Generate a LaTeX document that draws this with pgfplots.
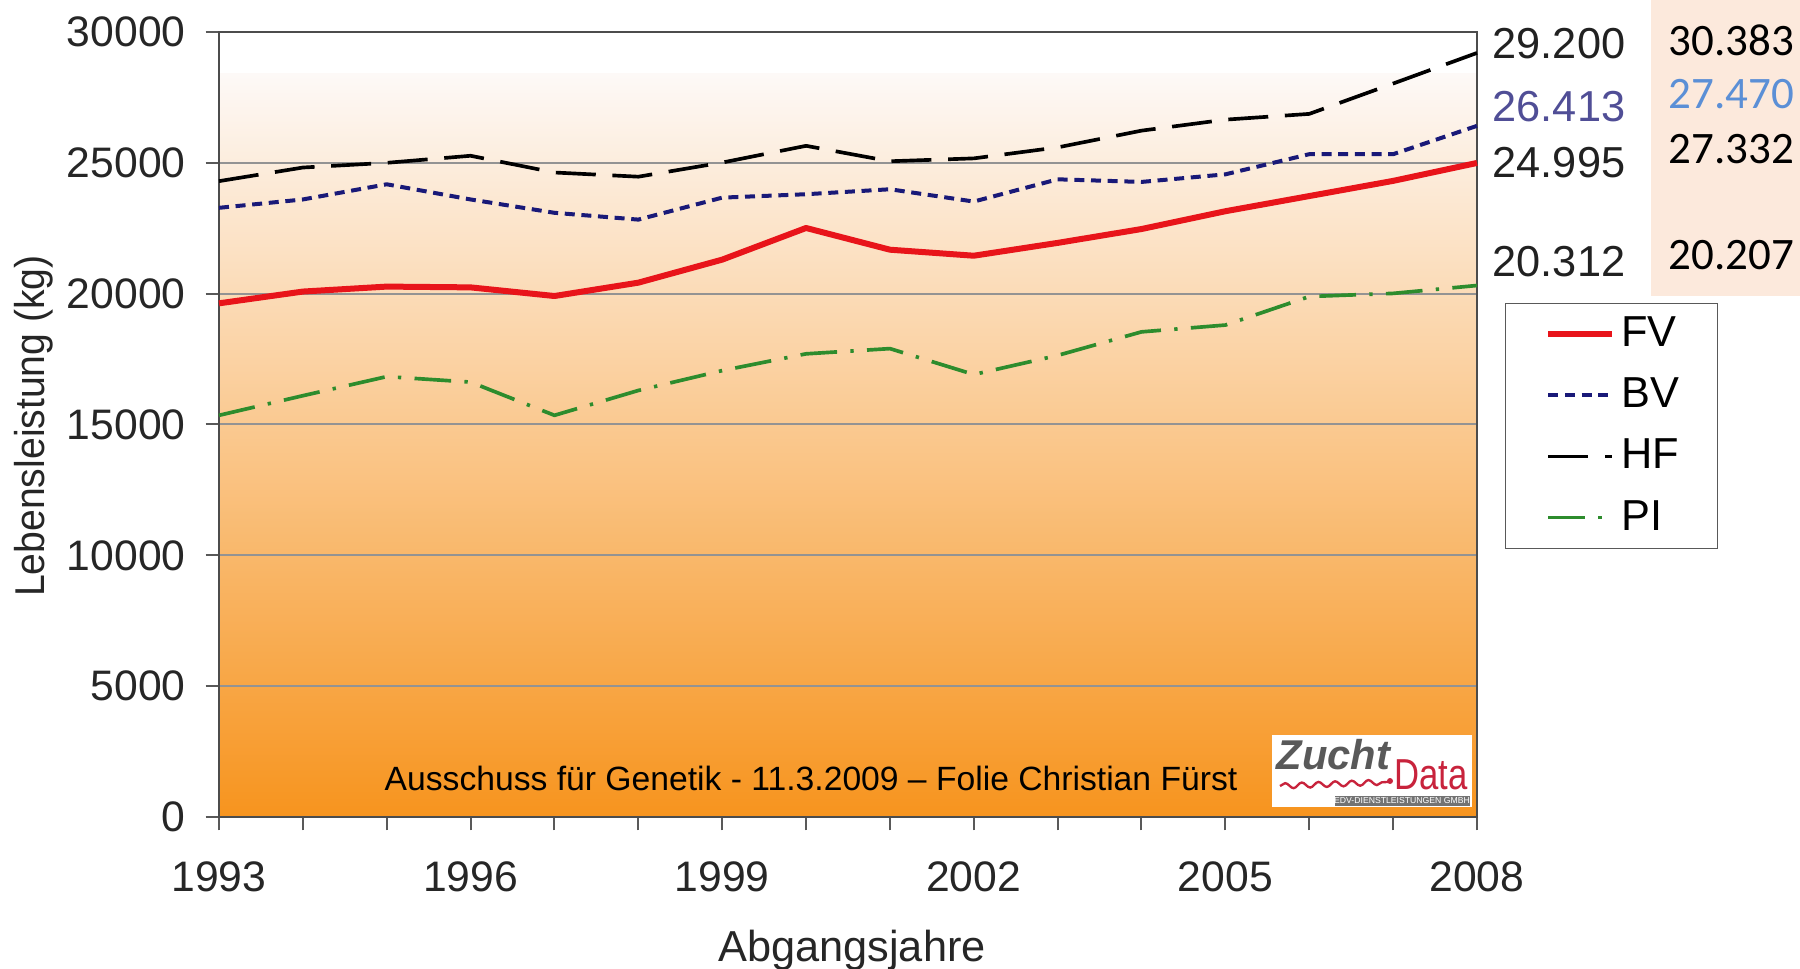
\documentclass[border=0pt]{standalone}
\usepackage{pgfplots}
\pgfplotsset{compat=1.18}
\usepackage{pgfplotstable}
\usepackage{fontspec}
\setmainfont{Liberation Sans}
\newfontfamily\calibri{Carlito}
\usetikzlibrary{decorations.pathmorphing}
\definecolor{fvred}{RGB}{232,20,26}
\definecolor{bvblue}{RGB}{25,25,120}
\definecolor{pigreen}{RGB}{45,140,45}
\definecolor{bgtop}{RGB}{253,249,247}
\definecolor{bgmid}{RGB}{252,217,190}
\definecolor{bgbot}{RGB}{247,148,30}
\definecolor{peach}{RGB}{252,233,220}
\definecolor{lblue}{RGB}{91,143,214}
\definecolor{lpurple}{RGB}{80,78,150}
\definecolor{logored}{RGB}{200,35,60}

\pgfplotstableread{
year FV BV HF PI
1993 19630 23280 24300 15350
1994 20080 23600 24820 16100
1995 20270 24180 25000 16830
1996 20240 23600 25270 16620
1997 19910 23090 24630 15350
1998 20420 22830 24470 16300
1999 21300 23670 25010 17060
2000 22510 23800 25650 17700
2001 21680 23990 25060 17900
2002 21450 23520 25170 16910
2003 21940 24370 25590 17640
2004 22470 24270 26230 18540
2005 23150 24560 26650 18800
2006 23730 25330 26870 19890
2007 24310 25330 28030 20010
2008 24995 26413 29200 20312
}\data

\begin{document}
\begin{tikzpicture}
\begin{axis}[
  set layers,
  scale only axis, width=377.4pt, height=235.5pt,
  xmin=1993, xmax=2008, ymin=0, ymax=30000,
  xtick={1993,...,2008},
  xticklabels={1993,,,1996,,,1999,,,2002,,,2005,,,2008},
  ytick={0,5000,...,30000},
  scaled y ticks=false,
  tick pos=left,
  /pgf/number format/1000 sep={},
  /pgf/number format/assume math mode=true,
  ymajorgrids, grid style={gray!85, line width=0.6pt},
  tick align=outside, major tick length=4pt,
  tick style={gray!70!black, line width=0.6pt},
  axis line style={gray!60!black, line width=0.7pt},
  ticklabel style={font=\fontsize{12.8}{14}\selectfont, text=black!85},
  xticklabel style={yshift=-5.8pt},
  yticklabel style={xshift=-2.5pt},
  clip=false,
  legend style={at={(rel axis cs:1.022,0.655)}, anchor=north west,
    draw=gray!70!black, inner xsep=9.5pt, inner ysep=2pt, row sep=3.9pt,
    font=\fontsize{13}{15}\selectfont, cells={anchor=west}},
  legend image code/.code={\path (0pt,0pt); \draw[#1] (2.5pt,0pt) -- (21.5pt,0pt);},
]
\begin{pgfonlayer}{axis background}
  \fill[white] (rel axis cs:0,0) rectangle (rel axis cs:1,1);
  \shade[top color=bgtop, middle color=bgmid, bottom color=bgbot]
    (axis cs:1993,0) rectangle (axis cs:2008,28400);
\end{pgfonlayer}
\coordinate (TL) at (rel axis cs:0,1);
\addplot[fvred, line width=1.8pt, line join=round] table[x=year, y=FV] {\data};
\addlegendentry{FV}
\addplot[bvblue, line width=1.2pt, line join=round, dash pattern=on 3pt off 2pt] table[x=year, y=BV] {\data};
\addlegendentry{BV}
\addplot[black, line width=1.1pt, line join=round, dash pattern=on 12pt off 5pt] table[x=year, y=HF] {\data};
\addlegendentry{HF}
\addplot[pigreen, line width=1.1pt, line join=round, dash pattern=on 11pt off 4pt on 1pt off 4pt] table[x=year, y=PI] {\data};
\addlegendentry{PI}
\end{axis}

\begin{scope}[shift={(TL)}, xshift=-65.7pt, yshift=9.6pt, x=0.3pt, y=-0.3pt]
  % right peach box
  \fill[peach] (1651,0) rectangle (1800,296);
  \begin{scope}[every node/.style={anchor=west, inner sep=0pt, font=\calibri\fontsize{13.5}{15}\selectfont}]
    \node at (1668,40) {30.383};
    \node[text=lblue] at (1668,94) {27.470};
    \node at (1668,149) {27.332};
    \node at (1668,255) {20.207};
  \end{scope}
  % values at right of axis
  \begin{scope}[every node/.style={anchor=west, inner sep=0pt, font=\fontsize{13}{15}\selectfont, text=black!87}]
    \node at (1492,44) {29.200};
    \node[text=lpurple] at (1492,107) {26.413};
    \node at (1492,163) {24.995};
    \node at (1492,262) {20.312};
  \end{scope}
  % axis labels
  \node[rotate=90, font=\fontsize{12.5}{14}\selectfont, text=black!85] at (34,426) {\scalebox{0.94}[1]{Lebensleistung (kg)}};
  \node[font=\fontsize{13}{15}\selectfont, text=black!85] at (852,950) {Abgangsjahre};
  % footer text
  \node[font=\fontsize{10.1}{12}\selectfont] at (811,778) {Ausschuss für Genetik - 11.3.2009 – Folie Christian Fürst};
  % logo
  \fill[white] (1272,735) rectangle (1472,807);
  \node[anchor=west, inner sep=0pt, font=\bfseries\itshape\fontsize{12.5}{13}\selectfont, text=black!65] at (1276,755) {Zucht};
  \node[anchor=west, inner sep=0pt, font=\fontsize{13}{14}\selectfont, text=logored] at (1394,775) {\scalebox{0.8}[1]{Data}};
  \draw[logored, line width=0.7pt, decorate, decoration={snake, amplitude=0.8pt, segment length=5pt}] (1280,786) -- (1388,782);
  \fill[logored] (1390,781) circle (3);
  \fill[black!55] (1335,796) rectangle (1470,806);
  \node[inner sep=0pt, font=\fontsize{2.6}{3}\selectfont, text=white] at (1402,801) {EDV-DIENSTLEISTUNGEN GMBH};
  \pgfresetboundingbox
  \path (0,0) rectangle (1800,968);
\end{scope}
\end{tikzpicture}
\end{document}
